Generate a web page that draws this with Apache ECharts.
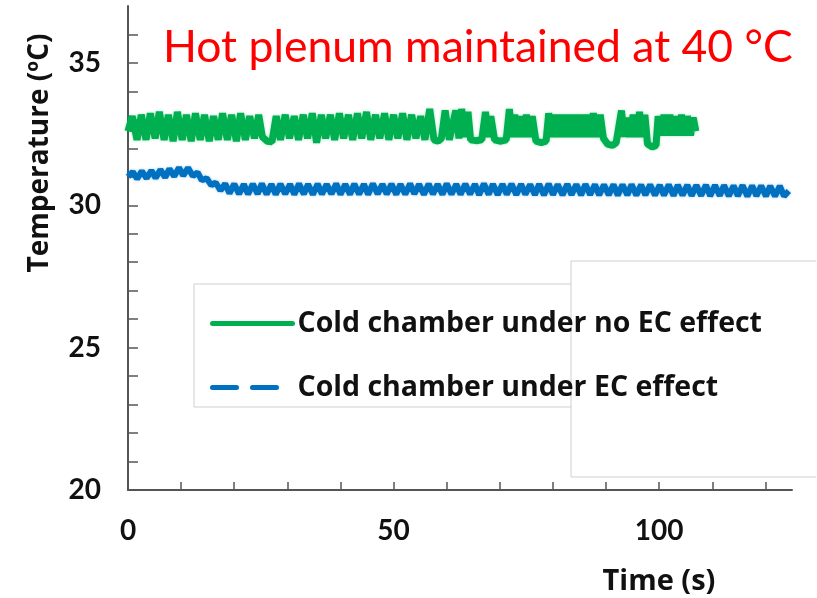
<!DOCTYPE html>
<html>
<head>
<meta charset="utf-8">
<title>Cold chamber temperature</title>
<script src="https://cdn.jsdelivr.net/npm/echarts@6/dist/echarts.min.js"></script>
<style>
  html, body { margin: 0; padding: 0; background: #fff; }
  #chart { width: 817px; height: 598px; }
</style>
</head>
<body>
<div id="chart"></div>
<script>
// series names
const seriesNames = ['Cold chamber under no EC effect', 'Cold chamber under EC effect']

// tick labels
const xLabelValues = [0, 50, 100]
const xTickValues = [10, 20, 30, 40, 50, 60, 70, 80, 90, 100, 110, 120]
const yLabelValues = [20, 25, 30, 35]
const yTickValues = [21, 22, 23, 24, 25, 26, 27, 28, 29, 30, 31, 32, 33, 34, 35, 36]

// [time (s), temperature (C)]
const noEcData = [
  [0, 32.6], [0.8, 33.13], [1.7, 32.3], [2.5, 33.18], [3.4, 32.3], [4.2, 33.23], [5.1, 32.35], [5.9, 33.28],
  [6.8, 32.3], [7.6, 33.18], [8.5, 32.25], [9.3, 33.28], [10.2, 32.3], [11.0, 33.18], [11.9, 32.25], [12.7, 33.23],
  [13.6, 32.3], [14.4, 33.18], [15.3, 32.25], [16.1, 33.13], [17.0, 32.3], [17.8, 33.23], [18.7, 32.3], [19.5, 33.18],
  [20.4, 32.25], [21.2, 33.23], [22.1, 32.3], [22.9, 33.13], [23.8, 32.35], [24.6, 33.18], [25.3, 32.4], [26.2, 32.25],
  [27.1, 32.23], [27.9, 33.13], [28.7, 32.3], [29.6, 33.18], [30.4, 32.35], [31.3, 33.13], [32.1, 32.3], [33.0, 33.18],
  [33.8, 32.35], [34.7, 33.23], [35.5, 32.2], [36.4, 33.18], [37.2, 32.35], [38.1, 33.18], [38.9, 32.3], [39.8, 33.23],
  [40.6, 32.35], [41.5, 33.18], [42.3, 32.3], [43.2, 33.23], [44.0, 32.35], [44.9, 33.28], [45.7, 32.3], [46.6, 33.18],
  [47.4, 32.35], [48.3, 33.23], [49.1, 32.3], [50.0, 33.18], [50.8, 32.35], [51.7, 33.23], [52.5, 32.3], [53.4, 33.18],
  [54.2, 32.35], [55.1, 33.13], [55.9, 32.3], [56.8, 33.38], [57.6, 32.3], [58.4, 32.25], [59.0, 32.35], [59.7, 33.33],
  [60.5, 32.3], [61.7, 33.33], [62.3, 32.35], [62.8, 33.38], [63.5, 32.4], [64.0, 33.28], [64.5, 32.3], [65.5, 32.27],
  [66.6, 32.3], [67.3, 33.28], [67.8, 32.4], [68.3, 33.13], [69.0, 32.3], [70.2, 32.25], [71.2, 32.3], [71.8, 33.38],
  [72.3, 32.4], [72.8, 33.18], [73.4, 32.4], [74.0, 33.13], [74.5, 32.4], [75.0, 33.18], [75.6, 32.4], [76.1, 33.13],
  [76.8, 32.25], [77.8, 32.2], [78.7, 32.25], [79.2, 33.23], [79.8, 32.4], [80.4, 33.18], [81.0, 32.4], [81.6, 33.18],
  [82.2, 32.4], [82.8, 33.18], [83.4, 32.4], [84.0, 33.18], [84.6, 32.4], [85.2, 33.18], [85.8, 32.4], [86.4, 33.18],
  [87.0, 32.4], [87.6, 33.23], [88.2, 32.4], [88.9, 33.18], [89.5, 32.35], [90.3, 32.15], [91.2, 32.1], [91.9, 32.2],
  [92.9, 33.33], [93.4, 32.4], [93.8, 33.08], [94.4, 32.4], [95.1, 33.18], [95.7, 32.4], [96.3, 33.28], [96.8, 32.4],
  [97.3, 33.18], [97.8, 32.15], [98.7, 32.05], [99.4, 32.1], [99.8, 33.13], [100.4, 32.45], [100.9, 33.18], [101.5, 32.45],
  [102.0, 33.18], [102.6, 32.45], [103.1, 33.13], [103.7, 32.45], [104.2, 33.18], [104.8, 32.45], [105.3, 33.13], [105.9, 32.45],
  [106.4, 33.08], [106.9, 32.6]
]

const ecData = [
  [0, 31.0], [0.9, 31.18], [1.7, 30.93], [2.6, 31.2], [3.5, 30.95], [4.4, 31.22], [5.2, 30.96], [6.1, 31.25],
  [7.0, 30.98], [7.8, 31.28], [8.7, 31.02], [9.6, 31.32], [10.4, 31.04], [11.3, 31.32], [12.2, 31.03], [13.1, 31.15],
  [13.9, 30.88], [14.8, 30.95], [15.7, 30.7], [16.5, 30.8], [17.4, 30.52], [18.3, 30.76], [19.1, 30.42], [20.0, 30.75],
  [20.9, 30.4], [21.8, 30.74], [22.6, 30.39], [23.5, 30.75], [24.4, 30.4], [25.2, 30.76], [26.1, 30.39], [27.0, 30.74],
  [27.8, 30.38], [28.7, 30.75], [29.6, 30.4], [30.5, 30.74], [31.3, 30.38], [32.2, 30.76], [33.1, 30.39], [33.9, 30.74],
  [34.8, 30.38], [35.7, 30.75], [36.5, 30.39], [37.4, 30.74], [38.3, 30.4], [39.2, 30.76], [40.0, 30.38], [40.9, 30.74],
  [41.8, 30.38], [42.6, 30.75], [43.5, 30.39], [44.4, 30.74], [45.2, 30.38], [46.1, 30.76], [47.0, 30.4], [47.9, 30.74],
  [48.7, 30.39], [49.6, 30.75], [50.5, 30.38], [51.3, 30.74], [52.2, 30.39], [53.1, 30.76], [53.9, 30.4], [54.8, 30.74],
  [55.7, 30.38], [56.6, 30.75], [57.4, 30.39], [58.3, 30.74], [59.2, 30.38], [60.0, 30.76], [60.9, 30.39], [61.8, 30.74],
  [62.6, 30.38], [63.5, 30.75], [64.4, 30.39], [65.3, 30.74], [66.1, 30.37], [67.0, 30.76], [67.9, 30.38], [68.7, 30.74],
  [69.6, 30.37], [70.5, 30.74], [71.3, 30.38], [72.2, 30.75], [73.1, 30.37], [74.0, 30.74], [74.8, 30.38], [75.7, 30.73],
  [76.6, 30.37], [77.4, 30.74], [78.3, 30.36], [79.2, 30.75], [80.0, 30.37], [80.9, 30.73], [81.8, 30.36], [82.7, 30.74],
  [83.5, 30.37], [84.4, 30.73], [85.3, 30.36], [86.1, 30.74], [87.0, 30.37], [87.9, 30.73], [88.7, 30.36], [89.6, 30.72],
  [90.5, 30.36], [91.4, 30.73], [92.2, 30.35], [93.1, 30.72], [94.0, 30.36], [94.8, 30.73], [95.7, 30.35], [96.6, 30.72],
  [97.4, 30.36], [98.3, 30.72], [99.2, 30.35], [100.1, 30.71], [100.9, 30.35], [101.8, 30.72], [102.7, 30.34], [103.5, 30.71],
  [104.4, 30.35], [105.3, 30.71], [106.1, 30.34], [107.0, 30.7], [107.9, 30.34], [108.8, 30.71], [109.6, 30.33], [110.5, 30.7],
  [111.4, 30.34], [112.2, 30.7], [113.1, 30.33], [114.0, 30.69], [114.8, 30.33], [115.7, 30.7], [116.6, 30.32], [117.5, 30.69],
  [118.3, 30.33], [119.2, 30.69], [120.1, 30.32], [120.9, 30.68], [121.8, 30.32], [122.7, 30.68], [123.5, 30.32], [124.4, 30.5]
]

const axisColor = '#555'
const textColor = '#111'

let myChart = echarts.init(document.getElementById('chart'))

myChart.setOption({
  animation: false,
  title: {
    text: 'Hot plenum maintained at 40 °C',
    left: 158,
    top: 20,
    textStyle: {
      color: '#ff0000',
      fontFamily: 'Lato',
      fontWeight: 'normal',
      fontSize: 44.5
    }
  },
  grid: {
    left: 128,
    right: 25,
    top: 6,
    bottom: 108,
    containLabel: false
  },
  legend: {
    orient: 'vertical',
    left: 205,
    top: 304,
    itemWidth: 80,
    itemHeight: 14,
    itemGap: 35,
    itemStyle: { opacity: 0 },
    lineStyle: { width: 5, cap: 'round' },
    textStyle: {
      color: textColor,
      fontFamily: 'Open Sans',
      fontWeight: 'bold',
      fontSize: 28.5
    },
    data: [
      { name: seriesNames[0] },
      { name: seriesNames[1], lineStyle: { width: 5, type: [24, 16], cap: 'round' } }
    ]
  },
  xAxis: {
    type: 'value',
    min: 0,
    max: 125,
    splitLine: { show: false },
    axisLine: { lineStyle: { color: axisColor, width: 2 } },
    axisTick: {
      inside: true,
      length: 8,
      customValues: xTickValues,
      lineStyle: { color: axisColor, width: 1.5 }
    },
    axisLabel: {
      customValues: xLabelValues,
      margin: 27,
      color: textColor,
      fontFamily: 'Lato',
      fontWeight: 'bold',
      fontSize: 28
    }
  },
  yAxis: {
    type: 'value',
    min: 20,
    max: 37,
    splitLine: { show: false },
    axisLine: { show: true, lineStyle: { color: axisColor, width: 2 } },
    axisTick: {
      show: true,
      inside: true,
      length: 10,
      customValues: yTickValues,
      lineStyle: { color: axisColor, width: 1.5 }
    },
    axisLabel: {
      customValues: yLabelValues,
      margin: 27,
      color: textColor,
      fontFamily: 'Lato',
      fontWeight: 'bold',
      fontSize: 28
    }
  },
  graphic: [
    // axis titles
    {
      type: 'text',
      x: 40,
      y: 153,
      rotation: Math.PI / 2,
      style: {
        text: 'Temperature (ºC)',
        font: 'bold 28px "Open Sans"',
        fill: textColor,
        align: 'center',
        verticalAlign: 'middle'
      }
    },
    {
      type: 'text',
      x: 659,
      y: 582,
      style: {
        text: 'Time (s)',
        font: 'bold 29px "Open Sans"',
        fill: textColor,
        align: 'center',
        verticalAlign: 'middle'
      }
    },
    // legend frame and the pasted box beside it
    {
      type: 'polyline',
      shape: { points: [[571, 284], [194, 284], [194, 407], [571, 407]] },
      style: { stroke: '#cfcfcf', lineWidth: 1, fill: null }
    },
    {
      type: 'polyline',
      shape: { points: [[816, 261], [571, 261], [571, 477], [816, 477]] },
      style: { stroke: '#cfcfcf', lineWidth: 1, fill: null }
    }
  ],
  series: [
    {
      name: seriesNames[0],
      type: 'line',
      symbol: 'none',
      data: noEcData,
      lineStyle: {
        color: '#00b050',
        width: 7,
        shadowColor: 'rgba(0, 176, 80, 0.35)',
        shadowBlur: 3
      },
      itemStyle: { color: '#00b050' }
    },
    {
      name: seriesNames[1],
      type: 'line',
      symbol: 'none',
      data: ecData,
      lineStyle: {
        color: '#0070c0',
        width: 6,
        shadowColor: 'rgba(0, 112, 192, 0.35)',
        shadowBlur: 3
      },
      itemStyle: { color: '#0070c0' }
    }
  ]
})
</script>
</body>
</html>
